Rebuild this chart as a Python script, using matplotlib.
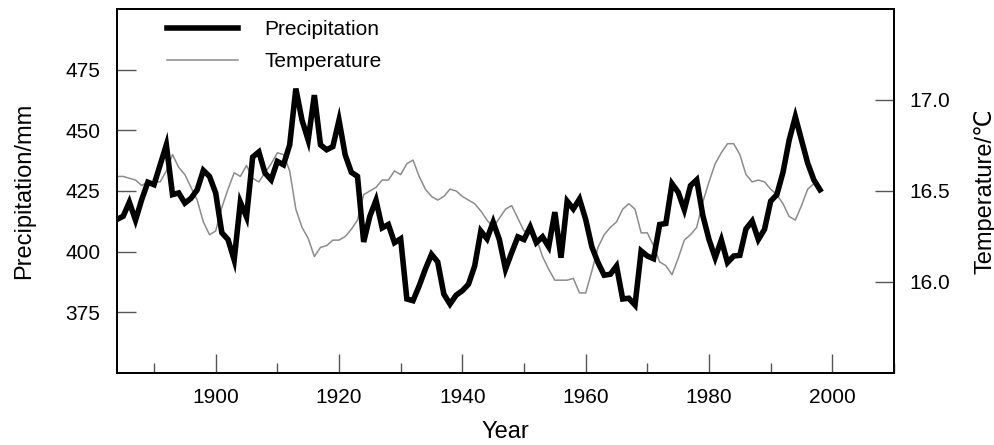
import numpy as np
import matplotlib
matplotlib.use("Agg")
import matplotlib.pyplot as plt
from matplotlib.ticker import MultipleLocator, FormatStrFormatter

plt.rcParams['font.family'] = ['Liberation Sans', 'DejaVu Sans']

# annual precipitation (mm), 1884-1998
precYears = np.arange(1884, 1999)
precip = [413.3, 414.6, 420.4, 413.0, 421.4, 428.6, 427.6, 435.8, 444.0, 423.5,
          424.2, 420.0, 422.0, 425.5, 433.5, 431.0, 424.2, 407.8, 405.0, 396.6,
          420.4, 414.3, 439.0, 441.1, 432.4, 429.6, 437.2, 435.8, 444.0, 467.2,
          454.2, 446.0, 464.5, 444.0, 442.0, 443.3, 454.2, 439.9, 432.7, 431.0,
          404.0, 414.6, 421.2, 409.8, 411.2, 403.7, 405.3, 380.5, 379.8, 385.9,
          392.8, 398.9, 395.8, 382.5, 378.4, 382.1, 383.9, 386.6, 394.1, 408.5,
          405.3, 412.2, 405.0, 392.8, 399.6, 406.1, 405.0, 410.2, 403.7, 406.1,
          402.0, 416.3, 397.5, 420.8, 417.6, 421.7, 413.3, 402.0, 395.5, 390.3,
          390.7, 394.1, 380.5, 380.8, 378.0, 400.3, 398.2, 397.1, 411.2, 411.6,
          428.0, 424.5, 417.3, 427.2, 429.6, 414.9, 405.0, 397.5, 404.8, 395.5,
          398.2, 398.5, 409.4, 412.6, 405.0, 409.2, 420.8, 423.5, 432.7, 446.0,
          455.6, 446.0, 436.5, 429.6, 425.5]

# annual mean temperature (deg C), 1884-1997
tempYears = np.arange(1884, 1998)
temp = [16.58, 16.58, 16.57, 16.56, 16.53, 16.55, 16.55, 16.55, 16.61, 16.70,
        16.63, 16.59, 16.52, 16.45, 16.33, 16.26, 16.28, 16.41, 16.51, 16.60,
        16.58, 16.64, 16.57, 16.55, 16.60, 16.65, 16.71, 16.70, 16.61, 16.40,
        16.30, 16.24, 16.14, 16.19, 16.20, 16.23, 16.23, 16.25, 16.29, 16.34,
        16.48, 16.50, 16.52, 16.56, 16.56, 16.61, 16.59, 16.65, 16.67, 16.58,
        16.51, 16.47, 16.45, 16.47, 16.51, 16.50, 16.47, 16.45, 16.43, 16.39,
        16.34, 16.30, 16.35, 16.40, 16.42, 16.35, 16.28, 16.28, 16.24, 16.14,
        16.07, 16.01, 16.01, 16.01, 16.02, 15.94, 15.94, 16.06, 16.19, 16.26,
        16.30, 16.33, 16.40, 16.43, 16.40, 16.27, 16.27, 16.20, 16.11, 16.09,
        16.04, 16.13, 16.23, 16.26, 16.30, 16.44, 16.55, 16.65, 16.71, 16.76,
        16.76, 16.70, 16.59, 16.55, 16.56, 16.55, 16.51, 16.48, 16.43, 16.36,
        16.34, 16.42, 16.51, 16.54]

fig = plt.figure(figsize=(9.95, 4.45), dpi=100)
ax = fig.add_axes([0.1176, 0.1618, 0.7809, 0.818])
ax2 = ax.twinx()

ax2.plot(tempYears, temp, color="#8c8c8c", lw=1.1)
ax.plot(precYears, precip, color="black", lw=4, solid_joinstyle="miter")
ax.set_zorder(ax2.get_zorder() + 1)
ax.patch.set_visible(False)

ax.set_xlim(1884, 2010)
ax.set_ylim(350, 500)
ax2.set_ylim(15.5, 17.5)

ax.set_xticks([1900, 1920, 1940, 1960, 1980, 2000])
ax.xaxis.set_minor_locator(MultipleLocator(10))
ax.set_yticks([375, 400, 425, 450, 475])
ax2.set_yticks([16.0, 16.5, 17.0])
ax2.yaxis.set_major_formatter(FormatStrFormatter("%.1f"))

tickCol = "#555555"
ax.tick_params(axis="x", which="major", direction="in", length=14, width=1,
               color=tickCol, labelsize=15, pad=11, top=False)
ax.tick_params(axis="x", which="minor", direction="in", length=7, width=1,
               color=tickCol, top=False)
ax.tick_params(axis="y", direction="in", length=14, width=1, color=tickCol,
               labelsize=15, pad=12, right=False)
ax2.tick_params(axis="y", direction="in", length=14, width=1, color=tickCol,
                labelsize=15, pad=11)

for a in (ax, ax2):
    for s in a.spines.values():
        s.set_linewidth(1.3)

ax.set_xlabel("Year", fontsize=17, labelpad=10)
ax.set_ylabel("Precipitation/mm", fontsize=17, labelpad=22)
ax2.set_ylabel("Temperature/℃", fontsize=17, labelpad=17)

h1, = ax.plot([], [], color="black", lw=4)
h2, = ax.plot([], [], color="#8c8c8c", lw=1.1)
ax.legend([h1, h2], ["Precipitation", "Temperature"], loc="upper left",
          bbox_to_anchor=(0.064, 0.97), frameon=False, fontsize=15,
          handlelength=3.4, handletextpad=1.3, labelspacing=0.65,
          borderaxespad=0, borderpad=0)

fig.savefig("out.png", dpi=100)
